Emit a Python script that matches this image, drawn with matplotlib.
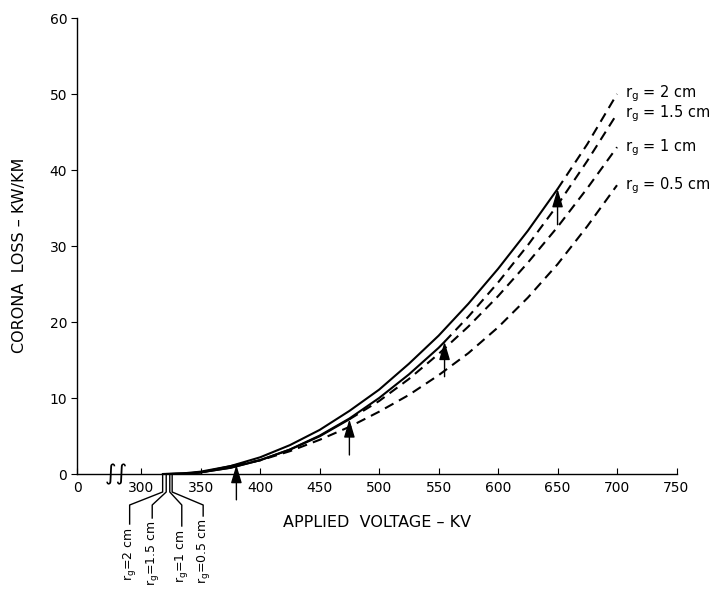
import numpy as np
import matplotlib
matplotlib.use("Agg")
import matplotlib.pyplot as plt
from matplotlib.lines import Line2D

plt.rcParams['font.family'] = ['DejaVu Sans']
plt.rcParams['lines.scale_dashes'] = False

# ---------------- data ----------------
rg_names = ['2', '1.5', '1', '0.5']

rg2_kv = [318, 335, 350, 375, 400, 425, 450, 475, 500, 525, 550, 575, 600, 625, 650, 675, 700]
rg2_kw = [0, 0.08, 0.31, 1.04, 2.2, 3.8, 5.8, 8.3, 11.1, 14.5, 18.2, 22.4, 27.0, 32.0, 37.5, 43.4, 50.0]

rg15_kv = [321, 335, 350, 375, 400, 425, 450, 475, 500, 525, 550, 555, 575, 600, 625, 650, 675, 700]
rg15_kw = [0, 0.04, 0.22, 0.81, 1.81, 3.22, 5.05, 7.3, 10.0, 13.1, 16.6, 17.4, 20.7, 25.2, 30.1, 35.4, 41.2, 47.4]

rg1_kv = [324, 340, 350, 375, 400, 425, 450, 475, 500, 525, 550, 575, 600, 625, 650, 675, 700]
rg1_kw = [0, 0.08, 0.22, 0.83, 1.83, 3.21, 4.96, 7.2, 9.6, 12.5, 15.8, 19.4, 23.4, 27.8, 32.5, 37.6, 43.0]

rg05_kv = [326, 340, 350, 380, 400, 425, 450, 475, 500, 525, 550, 575, 600, 625, 650, 675, 700]
rg05_kw = [0, 0.06, 0.2, 1.2, 1.8, 3.0, 4.5, 6.2, 8.2, 10.4, 13.0, 15.9, 19.3, 23.2, 27.6, 32.6, 38.0]

transition_kv = [650, 555, 475, 380]     # solid -> dashed (arrows)
arrow_tip_kw = [37.5, 17.4, 7.2, 1.2]
arrow_tail_kw = [32.8, 12.8, 2.5, -3.4]

x_ticks = [0, 300, 350, 400, 450, 500, 550, 600, 650, 700, 750]
y_ticks = [0, 10, 20, 30, 40, 50, 60]

series_kv = [rg2_kv, rg15_kv, rg1_kv, rg05_kv]
series_kw = [rg2_kw, rg15_kw, rg1_kw, rg05_kw]

# ---------------- broken x scale (0 .. 300 compressed) ----------------
def fwd(v):
    v = np.asarray(v, dtype=float)
    return np.where(v >= 300, v, 246 + v * 54.0 / 300.0)

def inv(u):
    u = np.asarray(u, dtype=float)
    return np.where(u >= 300, u, (u - 246) * 300.0 / 54.0)

W, H = 714, 603
fig = plt.figure(figsize=(W / 100, H / 100), dpi=100)
ax = fig.add_axes([77 / W, (H - 474) / H, (676.5 - 77) / W, (474 - 18) / H])
ax.set_xscale('function', functions=(fwd, inv))
ax.set_xlim(0, 750)
ax.set_ylim(0, 60)

for s in ['top', 'right']:
    ax.spines[s].set_visible(False)
for s in ['left', 'bottom']:
    ax.spines[s].set_linewidth(1.0)

ax.set_xticks(x_ticks)
ax.set_xticklabels([str(t) for t in x_ticks], fontsize=10)
ax.set_yticks(y_ticks)
ax.set_yticklabels([str(t) for t in y_ticks], fontsize=10)
ax.tick_params(axis='x', direction='in', length=4, pad=5)
ax.tick_params(axis='y', direction='out', length=4, pad=3)

dash = (0, (7, 4.5))
for kv, kw, tr in zip(series_kv, series_kw, transition_kv):
    kv = np.array(kv, dtype=float)
    kw = np.array(kw, dtype=float)
    solid = kv <= tr
    dashed = kv >= tr
    ax.plot(kv[solid], kw[solid], color='black', lw=1.5, solid_capstyle='round')
    ax.plot(kv[dashed], kw[dashed], color='black', lw=1.5, linestyle=dash)

# arrows marking onset of dashed portions
for t, tip, tail in zip(transition_kv, arrow_tip_kw, arrow_tail_kw):
    ax.annotate('', xy=(t, tip), xytext=(t, tail), annotation_clip=False,
                arrowprops=dict(arrowstyle='-|>,head_length=1.0,head_width=0.3',
                                color='black', lw=1.0, mutation_scale=11,
                                shrinkA=0, shrinkB=0))

# right-hand labels
for name, kw in zip(rg_names, series_kw):
    ax.text(707, kw[-1], r'$\mathregular{r_g}$' + ' = ' + name + ' cm',
            ha='left', va='center', fontsize=10.5, clip_on=False)

# axis break mark
ax.text(182, 0, '\u222b\u222b', ha='center', va='center', fontsize=16,
        clip_on=False, style='italic')

# axis labels
ax.set_xlabel('APPLIED  VOLTAGE \u2013 KV', fontsize=11.5)
ax.xaxis.set_label_coords(0.5, -0.09)
ax.set_ylabel('CORONA  LOSS \u2013 KW/KM', fontsize=11.5)
ax.yaxis.set_label_coords(-0.083, 0.48)

# leader lines and rotated labels below the axis (pixel offsets)
label_dx = [-33, -14, 12, 31]
leader_depth = [50, 44, 52, 42]
start_kv = [kv[0] for kv in series_kv]
for v0, dx, depth, name in zip(start_kv, label_dx, leader_depth, rg_names):
    x0, y0 = ax.transData.transform((v0, 0))
    xs = [x0, x0, x0 + dx, x0 + dx]
    ys = [y0, y0 - 18, y0 - 31, y0 - depth]
    fig.add_artist(Line2D(np.array(xs) / W, np.array(ys) / H,
                          transform=fig.transFigure, color='black', lw=1.0))
    fig.text((x0 + dx) / W, (y0 - depth - 3) / H,
             r'$\mathregular{r_g}$' + '=' + name + ' cm',
             rotation=90, ha='center', va='top', fontsize=9)

fig.savefig('out.png', dpi=100, facecolor='white')
